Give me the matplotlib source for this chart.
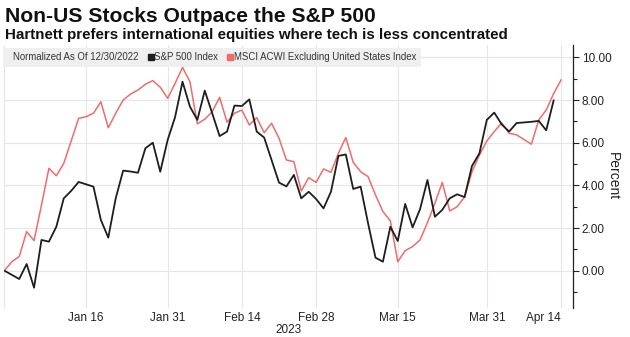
import numpy as np
import pandas as pd
import matplotlib
matplotlib.use("Agg")
import matplotlib.pyplot as plt
from matplotlib.lines import Line2D
from matplotlib.ticker import MultipleLocator, FormatStrFormatter

# trading days (weekday axis, as Bloomberg draws it)
start = "2022-12-30"
spx_dates = pd.bdate_range(start, "2023-04-13").drop(
    pd.to_datetime(["2023-01-02", "2023-01-16", "2023-02-20", "2023-04-07"]))
acwi_dates = pd.bdate_range(start, "2023-04-14").drop(pd.to_datetime(["2023-04-07"]))

# S&P 500, % change since 12/30/2022
spx = [0.00, -0.39, 0.31, -0.80, 1.44, 1.36, 2.06, 3.39, 3.74, 4.16,
       3.94, 2.38, 1.55, 3.39, 4.69, 4.65, 4.59, 5.74, 6.00, 4.64,
       6.13, 7.20, 8.86, 7.69, 7.07, 8.44, 7.38, 6.31, 6.52, 7.74,
       7.72, 8.03, 6.52, 6.24, 4.13, 3.95, 4.49, 3.39, 3.70, 3.36,
       2.92, 3.70, 5.38, 5.45, 3.83, 3.94, 2.22, 0.61, 0.42, 2.06,
       1.39, 3.13, 2.03, 2.88, 4.25, 2.53, 2.85, 3.39, 3.58, 3.45,
       4.91, 5.50, 7.07, 7.41, 6.86, 6.52, 6.92, 6.98, 7.02, 6.58,
       7.98]
# MSCI ACWI ex US, % change since 12/30/2022
acwi = [0.00, 0.42, 0.66, 1.83, 1.41, 3.08, 4.80, 4.45, 5.03, 6.08,
        7.14, 7.22, 7.38, 7.92, 6.70, 7.38, 8.00, 8.28, 8.47, 8.74,
        8.91, 8.60, 8.08, 8.78, 9.53, 8.86, 6.88, 7.10, 7.45, 8.13,
        6.96, 7.38, 7.53, 6.83, 7.17, 6.47, 6.91, 6.21, 5.19, 5.11,
        3.74, 4.36, 4.14, 4.77, 4.61, 5.50, 6.24, 5.08, 4.64, 4.41,
        3.55, 2.77, 2.34, 0.42, 0.94, 1.13, 1.44, 2.25, 3.16, 4.14,
        2.80, 3.00, 3.45, 4.64, 5.42, 6.08, 6.52, 6.93, 6.44, 6.37,
        5.93, 7.07, 7.53, 8.30, 8.94]

tick_dates = ["2023-01-16", "2023-01-31", "2023-02-14", "2023-02-28",
              "2023-03-15", "2023-03-31", "2023-04-14"]
tick_labels = ["Jan 16", "Jan 31", "Feb 14", "Feb 28", "Mar 15", "Mar 31", "Apr 14"]

black = "#1e1e1e"
red = "#f26b6b"
grid = "#e6e6e6"

plt.rcParams["font.family"] = ["Liberation Sans", "DejaVu Sans"]


def wd(dates):
    d = np.array(pd.to_datetime(dates).values, dtype="datetime64[D]")
    return np.busday_count(np.datetime64(start), d)


fig = plt.figure(figsize=(6.3, 3.37), dpi=100)
ax = fig.add_axes([4 / 630, 1 - 308 / 337, 569.3 / 630, 263 / 337])

ax.plot(wd(spx_dates), spx, color=black, lw=1.3, zorder=3)
ax.plot(wd(acwi_dates), acwi, color=red, lw=1.1, zorder=2)

ax.set_xlim(-0.05, 76.65)
ax.set_ylim(-1.75, 10.58)

ax.set_xticks(wd(tick_dates))
ax.set_xticklabels(tick_labels)
ax.get_xticklabels()[-1].set_ha("right")
ax.tick_params(axis="x", length=0, labelsize=8.5, colors="#222", pad=3)
ax.set_xlabel("2023", fontsize=8.5, color="#222", labelpad=0)

ax.yaxis.tick_right()
ax.yaxis.set_label_position("right")
ax.yaxis.set_major_locator(MultipleLocator(2))
ax.yaxis.set_minor_locator(MultipleLocator(1))
ax.yaxis.set_major_formatter(FormatStrFormatter("%.2f"))
ax.tick_params(axis="y", which="major", length=4, width=0.8, labelsize=8.5,
               colors="#222", pad=2)
ax.tick_params(axis="y", which="minor", length=3, width=0.8, colors="#222")
ax.set_ylabel("Percent", rotation=270, fontsize=10, color="#222", labelpad=6)

ax.grid(True, color=grid, lw=0.8)
ax.set_axisbelow(True)
for s in ["top", "bottom"]:
    ax.spines[s].set_visible(False)
ax.spines["left"].set_color(grid)
ax.spines["left"].set_linewidth(0.8)
ax.spines["right"].set_color("#222")
ax.spines["right"].set_linewidth(0.9)

handles = [Line2D([], [], ls="", marker="s", color="none"),
           Line2D([], [], ls="", marker="s", color=black, markersize=5),
           Line2D([], [], ls="", marker="s", color=red, markersize=5)]
labels = ["Normalized As Of 12/30/2022", "S&P 500 Index",
          "MSCI ACWI Excluding United States Index"]
leg = ax.legend(handles, labels, ncol=3, loc="upper left", bbox_to_anchor=(-0.002, 0.99),
                frameon=True, fancybox=False, fontsize=6.9, handlelength=0.45,
                handletextpad=0.15, columnspacing=1.0, borderpad=0.5,
                borderaxespad=0.0)
leg.get_frame().set_facecolor("#efefef")
leg.get_frame().set_edgecolor("none")
leg.get_frame().set_alpha(1)
for t in leg.get_texts():
    t.set_color("#333")

fig.text(5 / 630, 1 - 22 / 337, "Non-US Stocks Outpace the S&P 500",
         fontsize=15.2, fontweight="bold", color="#111", va="baseline")
fig.text(5 / 630, 1 - 39 / 337,
         "Hartnett prefers international equities where tech is less concentrated",
         fontsize=10.9, fontweight="bold", color="#111", va="baseline")

fig.savefig("out.png", dpi=100)
